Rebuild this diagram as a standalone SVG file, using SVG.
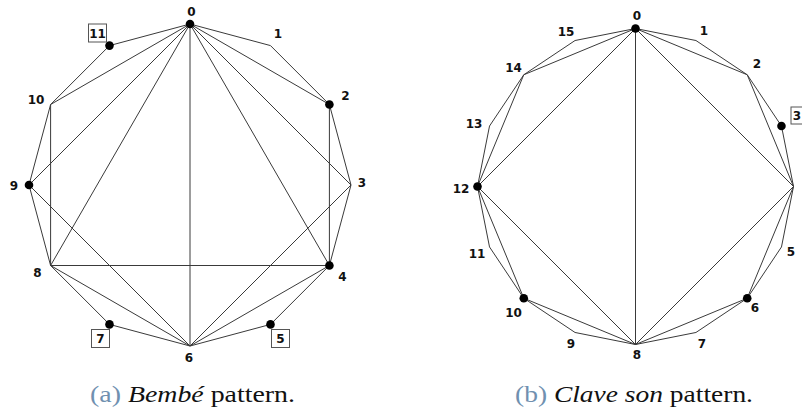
<svg xmlns="http://www.w3.org/2000/svg" width="802" height="412" viewBox="0 0 802 412">
<style>
.e{stroke:#3a3a3a;stroke-width:1;fill:none}
.d{fill:#000}
.l{font-family:"DejaVu Sans",Verdana,sans-serif;font-weight:bold;font-size:12px;fill:#111;text-anchor:middle}
.b{fill:#fff;stroke:#555;stroke-width:1}
.c{font-family:"Liberation Serif","Times New Roman",serif;font-size:23px;fill:#111}
.c .n{fill:#7090b0}
.c .i{font-style:italic}
</style>
<rect width="802" height="412" fill="#fff"/>
<g id="connectors-a">
<polygon class="e" points="190,24 270.5,45.6 329.4,104.5 351,185 329.4,265.5 270.5,324.4 190,346 109.5,324.4 50.6,265.5 29,185 50.6,104.5 109.5,45.6"/>
<path class="e" d="M190,24L329.4,104.5M190,24L351,185M190,24L329.4,265.5M190,24L190,346M190,24L50.6,265.5M190,24L29,185M190,24L50.6,104.5M329.4,104.5L329.4,265.5M351,185L190,346M329.4,265.5L190,346M329.4,265.5L50.6,265.5M50.6,265.5L190,346M29,185L190,346M50.6,265.5L50.6,104.5"/>
</g>
<g id="connectors-b">
<polygon class="e" points="635.5,28.5 695.96,40.53 747.22,74.78 781.47,126.04 793.5,186.5 781.47,246.96 747.22,298.22 695.96,332.47 635.5,344.5 575.04,332.47 523.78,298.22 489.53,246.96 477.5,186.5 489.53,126.04 523.78,74.78 575.04,40.53"/>
<path class="e" d="M635.5,28.5L747.22,74.78M635.5,28.5L793.5,186.5M635.5,28.5L635.5,344.5M635.5,28.5L477.5,186.5M635.5,28.5L523.78,74.78M747.22,74.78L793.5,186.5M793.5,186.5L635.5,344.5M793.5,186.5L747.22,298.22M747.22,298.22L635.5,344.5M523.78,74.78L477.5,186.5M477.5,186.5L635.5,344.5M477.5,186.5L523.78,298.22M523.78,298.22L635.5,344.5"/>
</g>
<g id="a-v0"><circle class="d" cx="190" cy="24" r="4.3"/><text class="l" x="191.5" y="15.5">0</text></g>
<g id="a-v1"><text class="l" x="278" y="37.5">1</text></g>
<g id="a-v2"><circle class="d" cx="329.4" cy="104.5" r="4.3"/><text class="l" x="345.5" y="99.5">2</text></g>
<g id="a-v3"><text class="l" x="362" y="187">3</text></g>
<g id="a-v4"><circle class="d" cx="329.4" cy="265.5" r="4.3"/><text class="l" x="342.5" y="280.5">4</text></g>
<g id="a-v5"><circle class="d" cx="270.5" cy="324.4" r="4.3"/><rect class="b" x="271.5" y="329.5" width="18" height="18"/><text class="l" x="280.5" y="343">5</text></g>
<g id="a-v6"><text class="l" x="189" y="361.5">6</text></g>
<g id="a-v7"><circle class="d" cx="109.5" cy="324.4" r="4.3"/><rect class="b" x="91.5" y="329.5" width="18" height="18"/><text class="l" x="100.5" y="343">7</text></g>
<g id="a-v8"><text class="l" x="37.5" y="277">8</text></g>
<g id="a-v9"><circle class="d" cx="29" cy="185" r="4.3"/><text class="l" x="14" y="190">9</text></g>
<g id="a-v10"><text class="l" x="36" y="103.5">10</text></g>
<g id="a-v11"><circle class="d" cx="109.5" cy="45.6" r="4.3"/><rect class="b" x="88.5" y="24" width="18" height="18"/><text class="l" x="97.5" y="37.5">11</text></g>
<g id="b-v0"><circle class="d" cx="635.5" cy="28.5" r="4.3"/><text class="l" x="637" y="19.5">0</text></g>
<g id="b-v1"><text class="l" x="704" y="35">1</text></g>
<g id="b-v2"><text class="l" x="757" y="67.5">2</text></g>
<g id="b-v3"><circle class="d" cx="781.47" cy="126.04" r="4.3"/><rect class="b" x="791" y="107" width="16" height="17"/><text class="l" x="797" y="120">3</text></g>
<g id="b-v5"><text class="l" x="791" y="255.5">5</text></g>
<g id="b-v6"><circle class="d" cx="747.22" cy="298.22" r="4.3"/><text class="l" x="755" y="311.5">6</text></g>
<g id="b-v7"><text class="l" x="702" y="348">7</text></g>
<g id="b-v8"><text class="l" x="637" y="358.5">8</text></g>
<g id="b-v9"><text class="l" x="571" y="348">9</text></g>
<g id="b-v10"><circle class="d" cx="523.78" cy="298.22" r="4.3"/><text class="l" x="513.5" y="316.5">10</text></g>
<g id="b-v11"><text class="l" x="477" y="257.5">11</text></g>
<g id="b-v12"><circle class="d" cx="477.5" cy="186.5" r="4.3"/><text class="l" x="461" y="192.5">12</text></g>
<g id="b-v13"><text class="l" x="474" y="127.5">13</text></g>
<g id="b-v14"><text class="l" x="513.5" y="71.5">14</text></g>
<g id="b-v15"><text class="l" x="566" y="35.5">15</text></g>
<g id="caption-a"><text class="c" x="90" y="401.5" textLength="205" lengthAdjust="spacingAndGlyphs"><tspan class="n">(a)</tspan> <tspan class="i">Bembé</tspan> pattern.</text></g>
<g id="caption-b"><text class="c" x="515" y="401.5" textLength="238" lengthAdjust="spacingAndGlyphs"><tspan class="n">(b)</tspan> <tspan class="i">Clave son</tspan> pattern.</text></g>
</svg>
